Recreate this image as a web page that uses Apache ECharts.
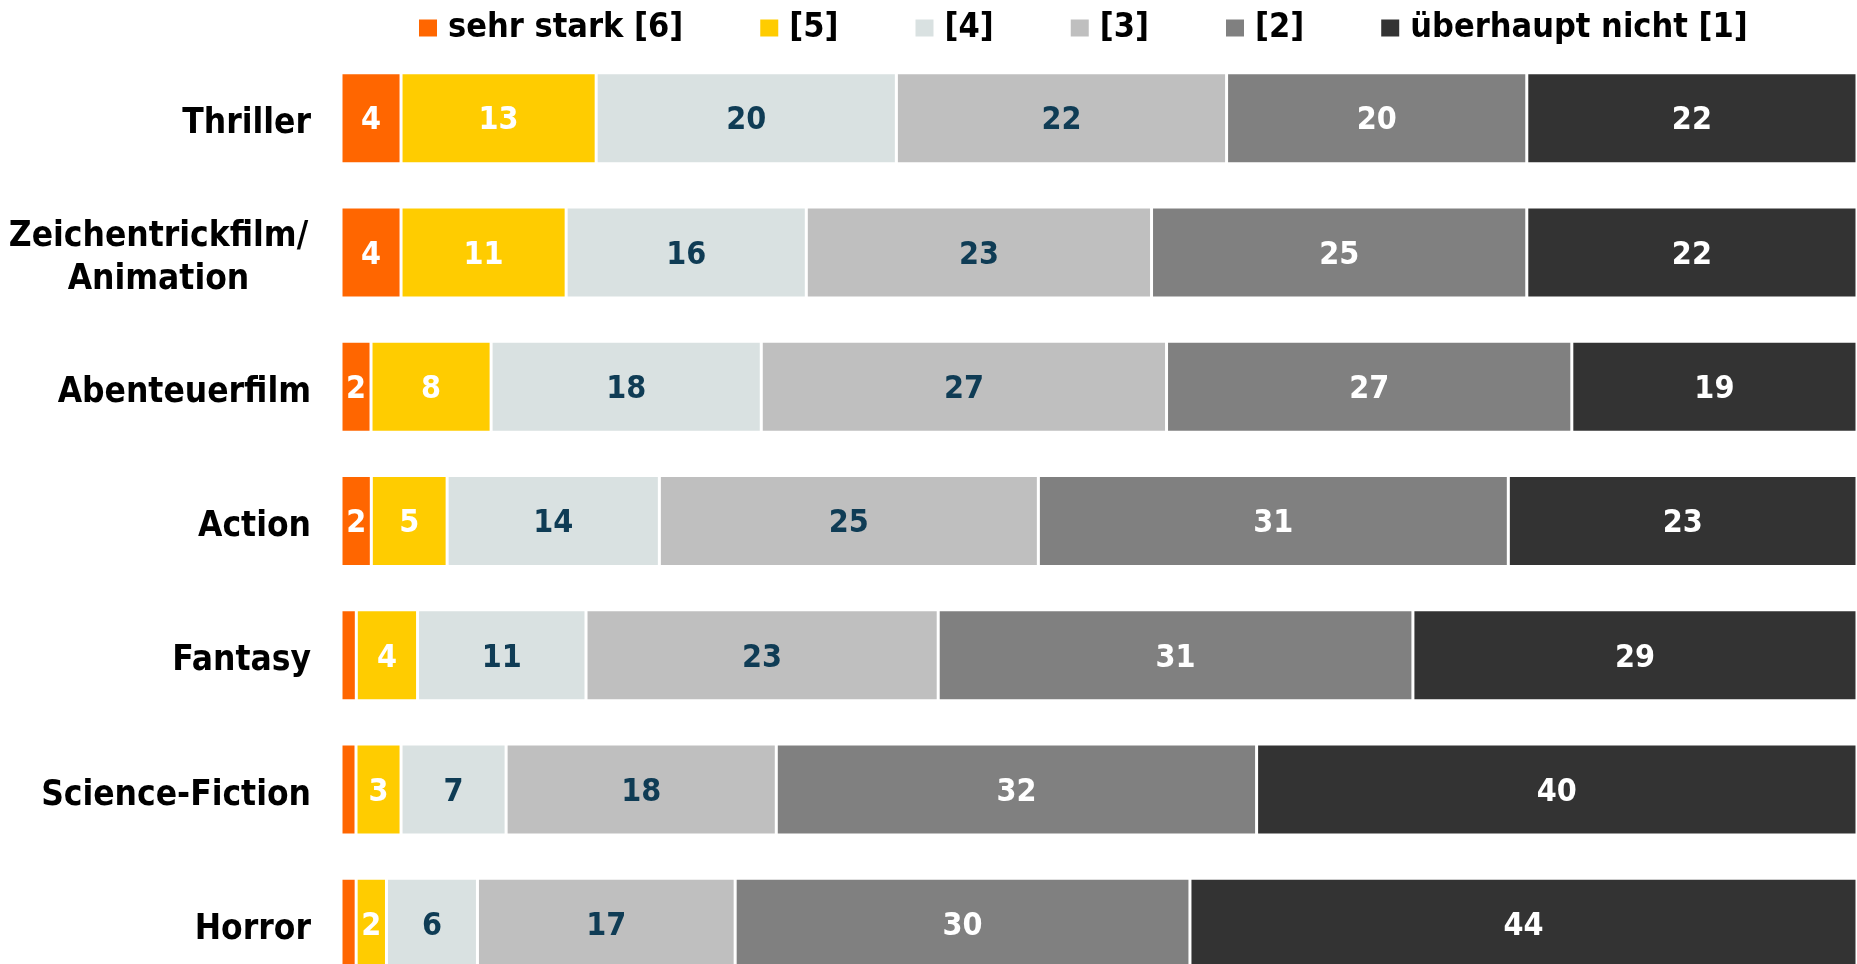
<!DOCTYPE html>
<html>
<head>
    <meta charset="UTF-8">
    <title>Genres</title>
    <script src="https://cdn.jsdelivr.net/npm/echarts/dist/echarts.min.js"></script>
    <style>
        body { margin: 0; background: #fff; }
        #main { width: 1857px; height: 964px; }
    </style>
</head>
<body>
    <div id="main"></div>
    <script>
        var genres = ['Thriller', 'Zeichentrickfilm/\nAnimation', 'Abenteuerfilm', 'Action', 'Fantasy', 'Science-Fiction', 'Horror'];
        var levels = ['sehr stark [6]', '[5]', '[4]', '[3]', '[2]', 'überhaupt nicht [1]'];
        var colors = ['#ff6600', '#ffcc00', '#d9e1e1', '#bfbfbf', '#808080', '#333333'];
        var labelColors = ['#fff', '#fff', '#0f3c55', '#0f3c55', '#fff', '#fff'];

        // Anteile je Stufe, Reihenfolge wie genres
        var level6 = [4, 4, 2, 2, 1, 1, 1];
        var level5 = [13, 11, 8, 5, 4, 3, 2];
        var level4 = [20, 16, 18, 14, 11, 7, 6];
        var level3 = [22, 23, 27, 25, 23, 18, 17];
        var level2 = [20, 25, 27, 31, 31, 32, 30];
        var level1 = [22, 22, 19, 23, 29, 40, 44];

        var rows = [level6, level5, level4, level3, level2, level1];
        var sums = genres.map(function (g, i) {
            return rows.reduce(function (s, r) { return s + r[i]; }, 0);
        });

        var myChart = echarts.init(document.getElementById('main'));
        var font = '"DejaVu Sans Condensed", "DejaVu Sans"';

        var series = rows.map(function (vals, k) {
            return {
                name: levels[k],
                type: 'bar',
                stack: 'all',
                barWidth: 91,
                itemStyle: { color: colors[k], borderColor: '#fff', borderWidth: 1.5 },
                label: {
                    show: true,
                    position: 'inside',
                    offset: [0, 3],
                    color: labelColors[k],
                    fontFamily: font,
                    fontWeight: 'bold',
                    fontSize: 32,
                    formatter: function (p) { return p.data.raw >= 2 ? p.data.raw : ''; }
                },
                data: vals.map(function (v, i) {
                    return { value: v / sums[i] * 100, raw: v };
                })
            };
        });

        var option = {
            animation: false,
            color: colors,
            legend: {
                data: levels,
                left: 419,
                top: 11,
                padding: 0,
                itemWidth: 18,
                itemHeight: 17,
                itemGap: 77,
                icon: 'rect',
                itemStyle: { borderWidth: 0 },
                textStyle: { fontFamily: font, fontWeight: 'bold', fontSize: 34, color: '#000', padding: [0, 0, 0, 6] }
            },
            grid: { left: 341, right: 0, top: 51, height: 940, outerBoundsMode: 'none' },
            xAxis: { type: 'value', min: 0, max: 100, show: false },
            yAxis: {
                type: 'category',
                inverse: true,
                data: genres,
                axisLine: { show: false },
                axisTick: { show: false },
                axisLabel: {
                    margin: 30,
                    color: '#000',
                    fontFamily: font,
                    fontWeight: 'bold',
                    fontSize: 35,
                    padding: [12, 0, 0, 0],
                    formatter: function (v) {
                        var parts = v.split('\n');
                        if (parts.length === 1) return v;
                        return parts.map(function (l) { return '{m|' + l + '}'; }).join('\n');
                    },
                    rich: {
                        m: { fontFamily: font, fontWeight: 'bold', fontSize: 35, color: '#000', lineHeight: 43, width: 305, align: 'center' }
                    }
                }
            },
            series: series
        };
        myChart.setOption(option);
    </script>
</body>
</html>
